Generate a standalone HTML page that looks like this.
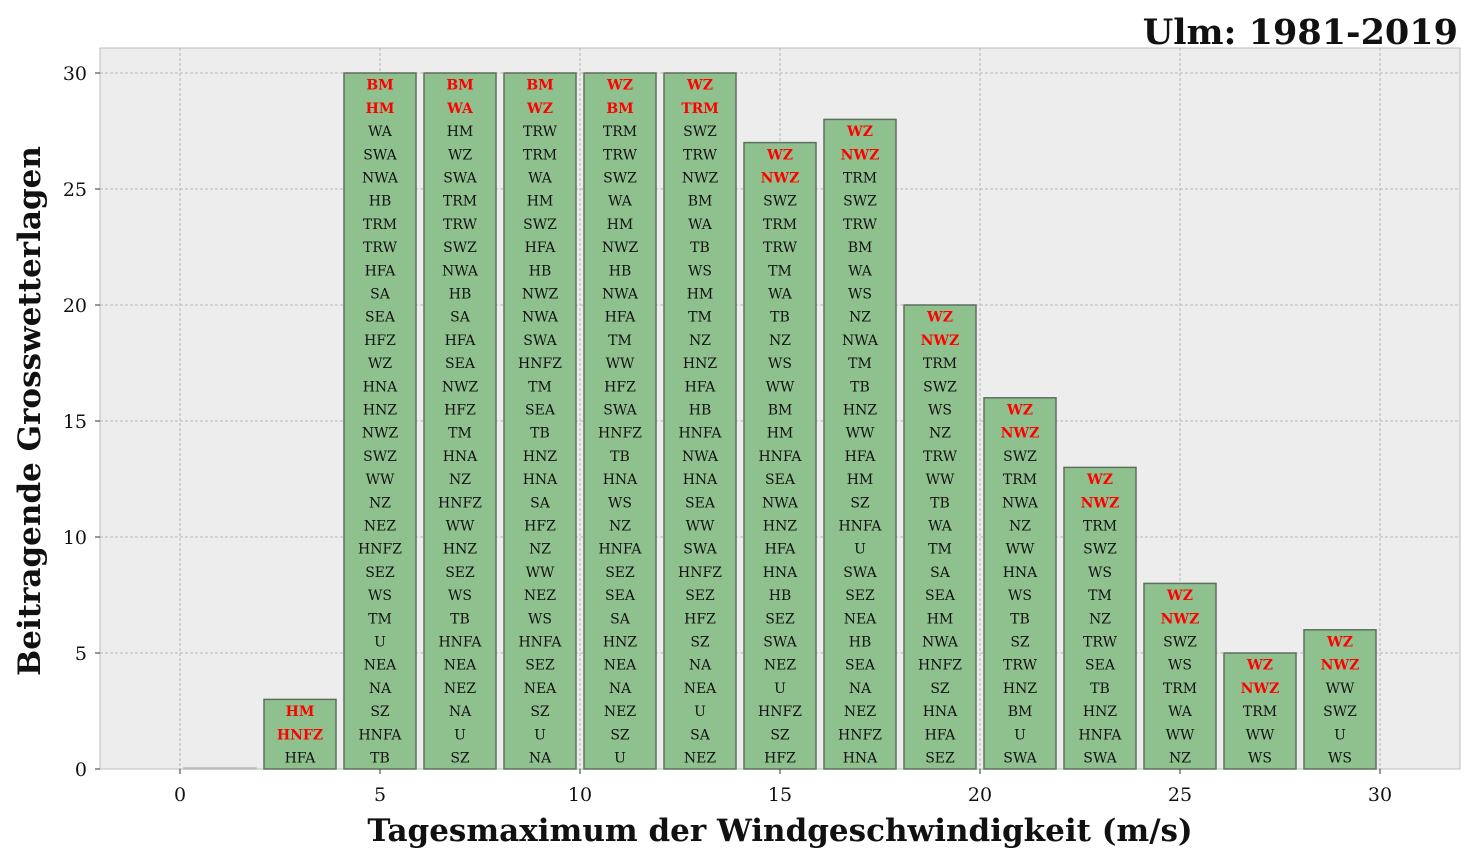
<!DOCTYPE html>
<html><head><meta charset="utf-8"><style>body{margin:0;background:#fff}svg{display:block}</style></head><body>
<svg width="1475" height="863" xmlns="http://www.w3.org/2000/svg" font-family="DejaVu Serif, Liberation Serif, serif">
<rect x="0" y="0" width="1475" height="863" fill="#fff"/>
<rect x="100" y="48" width="1360" height="721" fill="#ededed" stroke="#bdbdbd" stroke-width="1"/>
<g stroke="#a8a8a8" stroke-width="0.8" stroke-dasharray="3,2">
<line x1="180" y1="48" x2="180" y2="769"/><line x1="380" y1="48" x2="380" y2="769"/><line x1="580" y1="48" x2="580" y2="769"/><line x1="780" y1="48" x2="780" y2="769"/><line x1="980" y1="48" x2="980" y2="769"/><line x1="1180" y1="48" x2="1180" y2="769"/><line x1="1380" y1="48" x2="1380" y2="769"/>
<line x1="100" y1="653" x2="1460" y2="653"/><line x1="100" y1="537" x2="1460" y2="537"/><line x1="100" y1="421" x2="1460" y2="421"/><line x1="100" y1="305" x2="1460" y2="305"/><line x1="100" y1="189" x2="1460" y2="189"/><line x1="100" y1="73" x2="1460" y2="73"/>
</g>
<g fill="#8fc18f" stroke="#5f6f5f" stroke-width="1.5">
<rect x="184" y="768" width="72" height="1" stroke="#bbb"/>
<rect x="264" y="699.4" width="72" height="69.6"/>
<rect x="344" y="73" width="72" height="696"/>
<rect x="424" y="73" width="72" height="696"/>
<rect x="504" y="73" width="72" height="696"/>
<rect x="584" y="73" width="72" height="696"/>
<rect x="664" y="73" width="72" height="696"/>
<rect x="744" y="142.6" width="72" height="626.4"/>
<rect x="824" y="119.4" width="72" height="649.6"/>
<rect x="904" y="305" width="72" height="464"/>
<rect x="984" y="397.8" width="72" height="371.2"/>
<rect x="1064" y="467.4" width="72" height="301.6"/>
<rect x="1144" y="583.4" width="72" height="185.6"/>
<rect x="1224" y="653" width="72" height="116"/>
<rect x="1304" y="629.8" width="72" height="139.2"/>
</g>
<g font-size="14" fill="#111" text-anchor="middle">
<text y="762.5"><tspan x="300">HFA</tspan><tspan x="300" dy="-23.2" fill="red" font-weight="bold">HNFZ</tspan><tspan x="300" dy="-23.2" fill="red" font-weight="bold">HM</tspan></text>
<text y="762.5"><tspan x="380">TB</tspan><tspan x="380" dy="-23.2">HNFA</tspan><tspan x="380" dy="-23.2">SZ</tspan><tspan x="380" dy="-23.2">NA</tspan><tspan x="380" dy="-23.2">NEA</tspan><tspan x="380" dy="-23.2">U</tspan><tspan x="380" dy="-23.2">TM</tspan><tspan x="380" dy="-23.2">WS</tspan><tspan x="380" dy="-23.2">SEZ</tspan><tspan x="380" dy="-23.2">HNFZ</tspan><tspan x="380" dy="-23.2">NEZ</tspan><tspan x="380" dy="-23.2">NZ</tspan><tspan x="380" dy="-23.2">WW</tspan><tspan x="380" dy="-23.2">SWZ</tspan><tspan x="380" dy="-23.2">NWZ</tspan><tspan x="380" dy="-23.2">HNZ</tspan><tspan x="380" dy="-23.2">HNA</tspan><tspan x="380" dy="-23.2">WZ</tspan><tspan x="380" dy="-23.2">HFZ</tspan><tspan x="380" dy="-23.2">SEA</tspan><tspan x="380" dy="-23.2">SA</tspan><tspan x="380" dy="-23.2">HFA</tspan><tspan x="380" dy="-23.2">TRW</tspan><tspan x="380" dy="-23.2">TRM</tspan><tspan x="380" dy="-23.2">HB</tspan><tspan x="380" dy="-23.2">NWA</tspan><tspan x="380" dy="-23.2">SWA</tspan><tspan x="380" dy="-23.2">WA</tspan><tspan x="380" dy="-23.2" fill="red" font-weight="bold">HM</tspan><tspan x="380" dy="-23.2" fill="red" font-weight="bold">BM</tspan></text>
<text y="762.5"><tspan x="460">SZ</tspan><tspan x="460" dy="-23.2">U</tspan><tspan x="460" dy="-23.2">NA</tspan><tspan x="460" dy="-23.2">NEZ</tspan><tspan x="460" dy="-23.2">NEA</tspan><tspan x="460" dy="-23.2">HNFA</tspan><tspan x="460" dy="-23.2">TB</tspan><tspan x="460" dy="-23.2">WS</tspan><tspan x="460" dy="-23.2">SEZ</tspan><tspan x="460" dy="-23.2">HNZ</tspan><tspan x="460" dy="-23.2">WW</tspan><tspan x="460" dy="-23.2">HNFZ</tspan><tspan x="460" dy="-23.2">NZ</tspan><tspan x="460" dy="-23.2">HNA</tspan><tspan x="460" dy="-23.2">TM</tspan><tspan x="460" dy="-23.2">HFZ</tspan><tspan x="460" dy="-23.2">NWZ</tspan><tspan x="460" dy="-23.2">SEA</tspan><tspan x="460" dy="-23.2">HFA</tspan><tspan x="460" dy="-23.2">SA</tspan><tspan x="460" dy="-23.2">HB</tspan><tspan x="460" dy="-23.2">NWA</tspan><tspan x="460" dy="-23.2">SWZ</tspan><tspan x="460" dy="-23.2">TRW</tspan><tspan x="460" dy="-23.2">TRM</tspan><tspan x="460" dy="-23.2">SWA</tspan><tspan x="460" dy="-23.2">WZ</tspan><tspan x="460" dy="-23.2">HM</tspan><tspan x="460" dy="-23.2" fill="red" font-weight="bold">WA</tspan><tspan x="460" dy="-23.2" fill="red" font-weight="bold">BM</tspan></text>
<text y="762.5"><tspan x="540">NA</tspan><tspan x="540" dy="-23.2">U</tspan><tspan x="540" dy="-23.2">SZ</tspan><tspan x="540" dy="-23.2">NEA</tspan><tspan x="540" dy="-23.2">SEZ</tspan><tspan x="540" dy="-23.2">HNFA</tspan><tspan x="540" dy="-23.2">WS</tspan><tspan x="540" dy="-23.2">NEZ</tspan><tspan x="540" dy="-23.2">WW</tspan><tspan x="540" dy="-23.2">NZ</tspan><tspan x="540" dy="-23.2">HFZ</tspan><tspan x="540" dy="-23.2">SA</tspan><tspan x="540" dy="-23.2">HNA</tspan><tspan x="540" dy="-23.2">HNZ</tspan><tspan x="540" dy="-23.2">TB</tspan><tspan x="540" dy="-23.2">SEA</tspan><tspan x="540" dy="-23.2">TM</tspan><tspan x="540" dy="-23.2">HNFZ</tspan><tspan x="540" dy="-23.2">SWA</tspan><tspan x="540" dy="-23.2">NWA</tspan><tspan x="540" dy="-23.2">NWZ</tspan><tspan x="540" dy="-23.2">HB</tspan><tspan x="540" dy="-23.2">HFA</tspan><tspan x="540" dy="-23.2">SWZ</tspan><tspan x="540" dy="-23.2">HM</tspan><tspan x="540" dy="-23.2">WA</tspan><tspan x="540" dy="-23.2">TRM</tspan><tspan x="540" dy="-23.2">TRW</tspan><tspan x="540" dy="-23.2" fill="red" font-weight="bold">WZ</tspan><tspan x="540" dy="-23.2" fill="red" font-weight="bold">BM</tspan></text>
<text y="762.5"><tspan x="620">U</tspan><tspan x="620" dy="-23.2">SZ</tspan><tspan x="620" dy="-23.2">NEZ</tspan><tspan x="620" dy="-23.2">NA</tspan><tspan x="620" dy="-23.2">NEA</tspan><tspan x="620" dy="-23.2">HNZ</tspan><tspan x="620" dy="-23.2">SA</tspan><tspan x="620" dy="-23.2">SEA</tspan><tspan x="620" dy="-23.2">SEZ</tspan><tspan x="620" dy="-23.2">HNFA</tspan><tspan x="620" dy="-23.2">NZ</tspan><tspan x="620" dy="-23.2">WS</tspan><tspan x="620" dy="-23.2">HNA</tspan><tspan x="620" dy="-23.2">TB</tspan><tspan x="620" dy="-23.2">HNFZ</tspan><tspan x="620" dy="-23.2">SWA</tspan><tspan x="620" dy="-23.2">HFZ</tspan><tspan x="620" dy="-23.2">WW</tspan><tspan x="620" dy="-23.2">TM</tspan><tspan x="620" dy="-23.2">HFA</tspan><tspan x="620" dy="-23.2">NWA</tspan><tspan x="620" dy="-23.2">HB</tspan><tspan x="620" dy="-23.2">NWZ</tspan><tspan x="620" dy="-23.2">HM</tspan><tspan x="620" dy="-23.2">WA</tspan><tspan x="620" dy="-23.2">SWZ</tspan><tspan x="620" dy="-23.2">TRW</tspan><tspan x="620" dy="-23.2">TRM</tspan><tspan x="620" dy="-23.2" fill="red" font-weight="bold">BM</tspan><tspan x="620" dy="-23.2" fill="red" font-weight="bold">WZ</tspan></text>
<text y="762.5"><tspan x="700">NEZ</tspan><tspan x="700" dy="-23.2">SA</tspan><tspan x="700" dy="-23.2">U</tspan><tspan x="700" dy="-23.2">NEA</tspan><tspan x="700" dy="-23.2">NA</tspan><tspan x="700" dy="-23.2">SZ</tspan><tspan x="700" dy="-23.2">HFZ</tspan><tspan x="700" dy="-23.2">SEZ</tspan><tspan x="700" dy="-23.2">HNFZ</tspan><tspan x="700" dy="-23.2">SWA</tspan><tspan x="700" dy="-23.2">WW</tspan><tspan x="700" dy="-23.2">SEA</tspan><tspan x="700" dy="-23.2">HNA</tspan><tspan x="700" dy="-23.2">NWA</tspan><tspan x="700" dy="-23.2">HNFA</tspan><tspan x="700" dy="-23.2">HB</tspan><tspan x="700" dy="-23.2">HFA</tspan><tspan x="700" dy="-23.2">HNZ</tspan><tspan x="700" dy="-23.2">NZ</tspan><tspan x="700" dy="-23.2">TM</tspan><tspan x="700" dy="-23.2">HM</tspan><tspan x="700" dy="-23.2">WS</tspan><tspan x="700" dy="-23.2">TB</tspan><tspan x="700" dy="-23.2">WA</tspan><tspan x="700" dy="-23.2">BM</tspan><tspan x="700" dy="-23.2">NWZ</tspan><tspan x="700" dy="-23.2">TRW</tspan><tspan x="700" dy="-23.2">SWZ</tspan><tspan x="700" dy="-23.2" fill="red" font-weight="bold">TRM</tspan><tspan x="700" dy="-23.2" fill="red" font-weight="bold">WZ</tspan></text>
<text y="762.5"><tspan x="780">HFZ</tspan><tspan x="780" dy="-23.2">SZ</tspan><tspan x="780" dy="-23.2">HNFZ</tspan><tspan x="780" dy="-23.2">U</tspan><tspan x="780" dy="-23.2">NEZ</tspan><tspan x="780" dy="-23.2">SWA</tspan><tspan x="780" dy="-23.2">SEZ</tspan><tspan x="780" dy="-23.2">HB</tspan><tspan x="780" dy="-23.2">HNA</tspan><tspan x="780" dy="-23.2">HFA</tspan><tspan x="780" dy="-23.2">HNZ</tspan><tspan x="780" dy="-23.2">NWA</tspan><tspan x="780" dy="-23.2">SEA</tspan><tspan x="780" dy="-23.2">HNFA</tspan><tspan x="780" dy="-23.2">HM</tspan><tspan x="780" dy="-23.2">BM</tspan><tspan x="780" dy="-23.2">WW</tspan><tspan x="780" dy="-23.2">WS</tspan><tspan x="780" dy="-23.2">NZ</tspan><tspan x="780" dy="-23.2">TB</tspan><tspan x="780" dy="-23.2">WA</tspan><tspan x="780" dy="-23.2">TM</tspan><tspan x="780" dy="-23.2">TRW</tspan><tspan x="780" dy="-23.2">TRM</tspan><tspan x="780" dy="-23.2">SWZ</tspan><tspan x="780" dy="-23.2" fill="red" font-weight="bold">NWZ</tspan><tspan x="780" dy="-23.2" fill="red" font-weight="bold">WZ</tspan></text>
<text y="762.5"><tspan x="860">HNA</tspan><tspan x="860" dy="-23.2">HNFZ</tspan><tspan x="860" dy="-23.2">NEZ</tspan><tspan x="860" dy="-23.2">NA</tspan><tspan x="860" dy="-23.2">SEA</tspan><tspan x="860" dy="-23.2">HB</tspan><tspan x="860" dy="-23.2">NEA</tspan><tspan x="860" dy="-23.2">SEZ</tspan><tspan x="860" dy="-23.2">SWA</tspan><tspan x="860" dy="-23.2">U</tspan><tspan x="860" dy="-23.2">HNFA</tspan><tspan x="860" dy="-23.2">SZ</tspan><tspan x="860" dy="-23.2">HM</tspan><tspan x="860" dy="-23.2">HFA</tspan><tspan x="860" dy="-23.2">WW</tspan><tspan x="860" dy="-23.2">HNZ</tspan><tspan x="860" dy="-23.2">TB</tspan><tspan x="860" dy="-23.2">TM</tspan><tspan x="860" dy="-23.2">NWA</tspan><tspan x="860" dy="-23.2">NZ</tspan><tspan x="860" dy="-23.2">WS</tspan><tspan x="860" dy="-23.2">WA</tspan><tspan x="860" dy="-23.2">BM</tspan><tspan x="860" dy="-23.2">TRW</tspan><tspan x="860" dy="-23.2">SWZ</tspan><tspan x="860" dy="-23.2">TRM</tspan><tspan x="860" dy="-23.2" fill="red" font-weight="bold">NWZ</tspan><tspan x="860" dy="-23.2" fill="red" font-weight="bold">WZ</tspan></text>
<text y="762.5"><tspan x="940">SEZ</tspan><tspan x="940" dy="-23.2">HFA</tspan><tspan x="940" dy="-23.2">HNA</tspan><tspan x="940" dy="-23.2">SZ</tspan><tspan x="940" dy="-23.2">HNFZ</tspan><tspan x="940" dy="-23.2">NWA</tspan><tspan x="940" dy="-23.2">HM</tspan><tspan x="940" dy="-23.2">SEA</tspan><tspan x="940" dy="-23.2">SA</tspan><tspan x="940" dy="-23.2">TM</tspan><tspan x="940" dy="-23.2">WA</tspan><tspan x="940" dy="-23.2">TB</tspan><tspan x="940" dy="-23.2">WW</tspan><tspan x="940" dy="-23.2">TRW</tspan><tspan x="940" dy="-23.2">NZ</tspan><tspan x="940" dy="-23.2">WS</tspan><tspan x="940" dy="-23.2">SWZ</tspan><tspan x="940" dy="-23.2">TRM</tspan><tspan x="940" dy="-23.2" fill="red" font-weight="bold">NWZ</tspan><tspan x="940" dy="-23.2" fill="red" font-weight="bold">WZ</tspan></text>
<text y="762.5"><tspan x="1020">SWA</tspan><tspan x="1020" dy="-23.2">U</tspan><tspan x="1020" dy="-23.2">BM</tspan><tspan x="1020" dy="-23.2">HNZ</tspan><tspan x="1020" dy="-23.2">TRW</tspan><tspan x="1020" dy="-23.2">SZ</tspan><tspan x="1020" dy="-23.2">TB</tspan><tspan x="1020" dy="-23.2">WS</tspan><tspan x="1020" dy="-23.2">HNA</tspan><tspan x="1020" dy="-23.2">WW</tspan><tspan x="1020" dy="-23.2">NZ</tspan><tspan x="1020" dy="-23.2">NWA</tspan><tspan x="1020" dy="-23.2">TRM</tspan><tspan x="1020" dy="-23.2">SWZ</tspan><tspan x="1020" dy="-23.2" fill="red" font-weight="bold">NWZ</tspan><tspan x="1020" dy="-23.2" fill="red" font-weight="bold">WZ</tspan></text>
<text y="762.5"><tspan x="1100">SWA</tspan><tspan x="1100" dy="-23.2">HNFA</tspan><tspan x="1100" dy="-23.2">HNZ</tspan><tspan x="1100" dy="-23.2">TB</tspan><tspan x="1100" dy="-23.2">SEA</tspan><tspan x="1100" dy="-23.2">TRW</tspan><tspan x="1100" dy="-23.2">NZ</tspan><tspan x="1100" dy="-23.2">TM</tspan><tspan x="1100" dy="-23.2">WS</tspan><tspan x="1100" dy="-23.2">SWZ</tspan><tspan x="1100" dy="-23.2">TRM</tspan><tspan x="1100" dy="-23.2" fill="red" font-weight="bold">NWZ</tspan><tspan x="1100" dy="-23.2" fill="red" font-weight="bold">WZ</tspan></text>
<text y="762.5"><tspan x="1180">NZ</tspan><tspan x="1180" dy="-23.2">WW</tspan><tspan x="1180" dy="-23.2">WA</tspan><tspan x="1180" dy="-23.2">TRM</tspan><tspan x="1180" dy="-23.2">WS</tspan><tspan x="1180" dy="-23.2">SWZ</tspan><tspan x="1180" dy="-23.2" fill="red" font-weight="bold">NWZ</tspan><tspan x="1180" dy="-23.2" fill="red" font-weight="bold">WZ</tspan></text>
<text y="762.5"><tspan x="1260">WS</tspan><tspan x="1260" dy="-23.2">WW</tspan><tspan x="1260" dy="-23.2">TRM</tspan><tspan x="1260" dy="-23.2" fill="red" font-weight="bold">NWZ</tspan><tspan x="1260" dy="-23.2" fill="red" font-weight="bold">WZ</tspan></text>
<text y="762.5"><tspan x="1340">WS</tspan><tspan x="1340" dy="-23.2">U</tspan><tspan x="1340" dy="-23.2">SWZ</tspan><tspan x="1340" dy="-23.2">WW</tspan><tspan x="1340" dy="-23.2" fill="red" font-weight="bold">NWZ</tspan><tspan x="1340" dy="-23.2" fill="red" font-weight="bold">WZ</tspan></text>
</g>
<g stroke="#333" stroke-width="1">
<line x1="180" y1="769" x2="180" y2="774"/><line x1="380" y1="769" x2="380" y2="774"/><line x1="580" y1="769" x2="580" y2="774"/><line x1="780" y1="769" x2="780" y2="774"/><line x1="980" y1="769" x2="980" y2="774"/><line x1="1180" y1="769" x2="1180" y2="774"/><line x1="1380" y1="769" x2="1380" y2="774"/>
<line x1="95" y1="769" x2="100" y2="769"/><line x1="95" y1="653" x2="100" y2="653"/><line x1="95" y1="537" x2="100" y2="537"/><line x1="95" y1="421" x2="100" y2="421"/><line x1="95" y1="305" x2="100" y2="305"/><line x1="95" y1="189" x2="100" y2="189"/><line x1="95" y1="73" x2="100" y2="73"/>
</g>
<g font-size="19" fill="#111" text-anchor="middle">
<text x="180" y="801">0</text><text x="380" y="801">5</text><text x="580" y="801">10</text><text x="780" y="801">15</text><text x="980" y="801">20</text><text x="1180" y="801">25</text><text x="1380" y="801">30</text>
</g>
<g font-size="19" fill="#111" text-anchor="end">
<text x="87" y="776">0</text><text x="87" y="660">5</text><text x="87" y="544">10</text><text x="87" y="428">15</text><text x="87" y="312">20</text><text x="87" y="196">25</text><text x="87" y="80">30</text>
</g>
<text x="780" y="841" font-size="31" font-weight="bold" text-anchor="middle" fill="#111">Tagesmaximum der Windgeschwindigkeit (m/s)</text>
<text transform="translate(40,411) rotate(-90)" font-size="31" font-weight="bold" text-anchor="middle" fill="#111">Beitragende Grosswetterlagen</text>
<text x="1458" y="44" font-size="35" font-weight="bold" text-anchor="end" fill="#111">Ulm: 1981-2019</text>
</svg>
</body></html>
